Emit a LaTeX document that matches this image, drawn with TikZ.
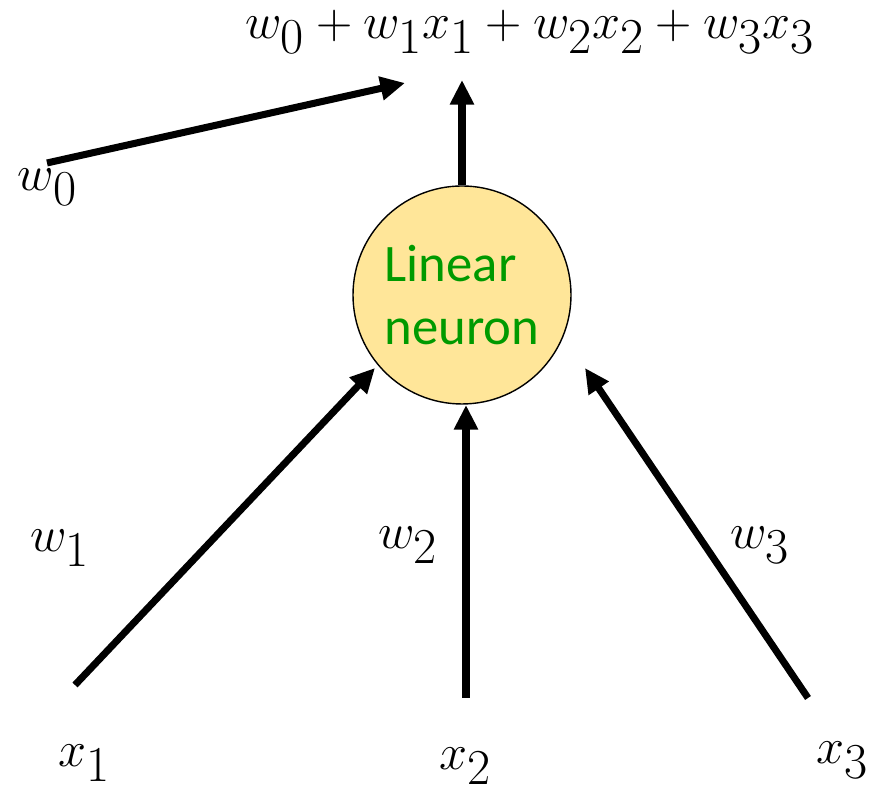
\documentclass[tikz,border=0pt]{standalone}
\usepackage{amsmath,amssymb}
\usepackage{fontspec}
\usepackage{xcolor}
\usepackage{tikz}
\usetikzlibrary{arrows.meta,positioning}
\newfontfamily\labelfont{Carlito}
\definecolor{neuronfill}{HTML}{FFE699}
\definecolor{neurontext}{HTML}{009A00}
\tikzset{
  wire/.style={line width=4pt,-{Triangle[length=14pt,width=13pt]}},
  mathlbl/.style={font=\fontsize{33}{40}\selectfont,scale=1.15,transform shape,inner sep=1pt},
}
\begin{document}
\begin{tikzpicture}
  \useasboundingbox (0,0) rectangle (17.4,15.86);
  \node[circle,draw=black,thick,fill=neuronfill,minimum size=4.36cm,inner sep=0pt,
        align=left,text=neurontext,font=\labelfont\fontsize{30}{36}\selectfont]
       (neuron) at (9.24,9.96) {Linear\\neuron};
  % output
  \coordinate (outtip) at (9.24,14.26);
  \node[mathlbl] (sum) at (10.6,15.22) {$w_0+w_1x_1+w_2x_2+w_3x_3$};
  \draw[wire] (neuron.north) -- (outtip);
  % bias
  \coordinate (w0start) at (0.94,12.6);
  \coordinate (w0tip) at (8.1,14.2);
  \node[mathlbl] (w0) at (0.95,12.12) {$w_0$};
  \draw[wire] (w0start) -- (w0tip);
  % inputs
  \coordinate (x1start) at (1.5,2.16);
  \coordinate (x1tip) at (7.5,8.5);
  \coordinate (x2start) at (9.32,1.9);
  \coordinate (x2tip) at (9.32,7.76);
  \coordinate (x3start) at (16.16,1.9);
  \coordinate (x3tip) at (11.7,8.5);
  \draw[wire] (x1start) -- (x1tip);
  \draw[wire] (x2start) -- (x2tip);
  \draw[wire] (x3start) -- (x3tip);
  \node[mathlbl] (w1) at (1.2,4.9) {$w_1$};
  \node[mathlbl] (w2) at (8.16,4.96) {$w_2$};
  \node[mathlbl] (w3) at (15.2,4.96) {$w_3$};
  \node[mathlbl] (x1) at (1.7,0.6) {$x_1$};
  \node[mathlbl] (x2) at (9.32,0.54) {$x_2$};
  \node[mathlbl] (x3) at (16.85,0.66) {$x_3$};
\end{tikzpicture}
\end{document}
